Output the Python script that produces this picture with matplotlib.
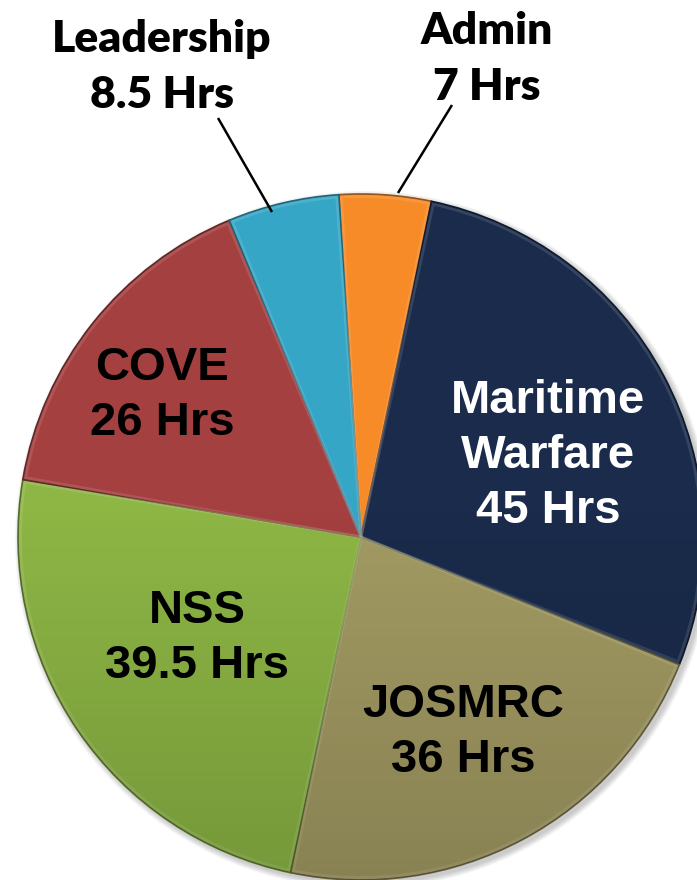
import numpy as np
import matplotlib.pyplot as plt
import matplotlib.colors as mc
from matplotlib.patches import Wedge, Circle

# training hours per block
names = ['Admin', 'Maritime\nWarfare', 'JOSMRC', 'NSS', 'COVE', 'Leadership']
hours = [7, 45, 36, 39.5, 26, 8.5]
colors = ['#F68B27', '#1A2B4B', '#A39B63', '#8DB645', '#A4403F', '#35A6C6']
text_colors = ['black', 'white', 'black', 'black', 'black', 'black']

W, H = 697, 880
fig = plt.figure(figsize=(W / 100, H / 100), dpi=100)
ax = fig.add_axes([0, 0, 1, 1])

cx, cy, R = 361, H - 537, 343


def shade(c, f):
    rgb = np.array(mc.to_rgb(c))
    if f < 0:
        return tuple(rgb * (1 + f))
    return tuple(rgb + (1 - rgb) * f)


# soft drop shadow behind the pie
for k in range(6):
    ax.add_patch(Circle((cx + 3, cy - 3), R + 1 + k, color='black',
                        alpha=0.035, lw=0, zorder=0))

wedges, _ = ax.pie(hours, colors=colors, startangle=93.7, counterclock=False,
                   center=(cx, cy), radius=R,
                   wedgeprops=dict(linewidth=1.2))
for w, c in zip(wedges, colors):
    w.set_edgecolor(shade(c, -0.4))
    w.set_zorder(2)
    # bevel highlight just inside each slice
    ax.add_patch(Wedge((cx, cy), R - 2.5, w.theta1 + 0.4, w.theta2 - 0.4,
                       fill=False, edgecolor=shade(c, 0.3), lw=2.0,
                       alpha=0.4, zorder=3))

# slight darkening towards the bottom of the pie
grad = np.zeros((256, 1, 4))
t = np.linspace(0, 1, 256)
grad[:, 0, 3] = np.clip(t - 0.45, 0, None) * 0.3
img = ax.imshow(grad, extent=(cx - R, cx + R, cy - R, cy + R),
                aspect='auto', zorder=4, interpolation='bilinear')
img.set_clip_path(Circle((cx, cy), R, transform=ax.transData))

ax.set_xlim(0, W)
ax.set_ylim(0, H)
ax.axis('off')

# labels inside the big slices: (x centre, baseline of last line) in pixels
inner = {1: (548, 523), 2: (463, 772), 3: (197, 678), 4: (162, 435)}
for i, (x, yb) in inner.items():
    lines = names[i].split('\n') + [f'{hours[i]:g} Hrs']
    for j, s in enumerate(reversed(lines)):
        ax.text(x, H - (yb - 55 * j), s, ha='center', va='baseline',
                fontsize=34, fontweight='bold', family='Liberation Sans',
                color=text_colors[i], zorder=6)

# labels outside the two thin slices, with leader lines
outer = {5: (162, 108, (218, 118), (272, 212)),
         0: (487, 100, (452, 105), (398, 193))}
for i, (x, yb, p0, p1) in outer.items():
    lines = [names[i], f'{hours[i]:g} Hrs']
    for j, s in enumerate(reversed(lines)):
        ax.text(x, H - (yb - 56 * j), s, ha='center', va='baseline',
                fontsize=32, fontweight='heavy', family=['Lato', 'DejaVu Sans'],
                color='black', zorder=6)
    ax.plot([p0[0], p1[0]], [H - p0[1], H - p1[1]], color='black', lw=1.8,
            solid_capstyle='butt', zorder=5)

fig.savefig('out.png', dpi=100)
